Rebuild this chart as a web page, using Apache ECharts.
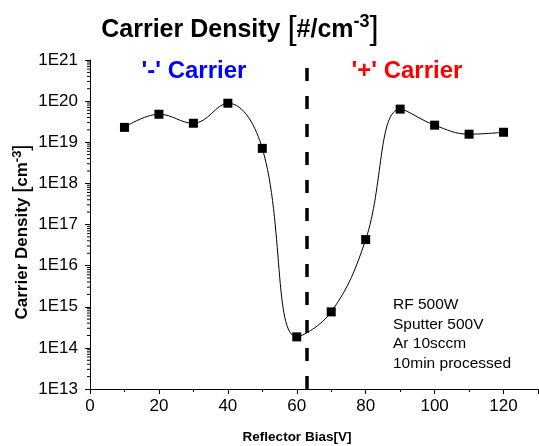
<!DOCTYPE html>
<html>
<head>
<meta charset="utf-8">
<script src="https://cdn.jsdelivr.net/npm/echarts@6/dist/echarts.min.js"></script>
<style>
html,body{margin:0;padding:0;background:#fff;}
#c{width:539px;height:446px;}
</style>
</head>
<body>
<div id="c"></div>
<script>
// Data
var biasV = [10, 20, 30, 40, 50, 60, 70, 80, 90, 100, 110, 120];
var density = [2.3e19, 4.8e19, 2.9e19, 8.9e19, 7.1e18, 1.85e14, 7.5e14, 4.3e16, 6.4e19, 2.6e19, 1.57e19, 1.75e19];
var yTickLabels = ['1E13','1E14','1E15','1E16','1E17','1E18','1E19','1E20','1E21'];
var xTickLabels = ['0','20','40','60','80','100','120'];
var boundaryBias = 63;
var noteLines = ['RF 500W', 'Sputter 500V', 'Ar 10sccm', '10min processed'];

var FONT = '"Liberation Sans", Arial, sans-serif';

// log-spaced minor tick positions for the y axis (axis decoration)
var minorTicks = [];
for (var e = 13; e < 21; e++) {
  for (var m = 2; m <= 9; m++) minorTicks.push([0, m * Math.pow(10, e)]);
}

var chart = echarts.init(document.getElementById('c'));
chart.setOption({
  animation: false,
  backgroundColor: '#fff',
  textStyle: {fontFamily: FONT},
  grid: {left: 90, right: 1, top: 60, bottom: 57, containLabel: false},
  xAxis: {
    type: 'value', min: 0, max: 130, interval: 20,
    axisLine: {show: true, lineStyle: {color: '#000', width: 1}},
    axisTick: {show: true, inside: false, length: 5, lineStyle: {color: '#000'}},
    minorTick: {show: true, splitNumber: 2, length: 3, lineStyle: {color: '#000'}},
    splitLine: {show: false},
    axisLabel: {color: '#000', fontSize: 17, fontFamily: FONT, margin: 9, showMaxLabel: false,
      formatter: function (v) { var i = xTickLabels.indexOf(String(v)); return i >= 0 ? xTickLabels[i] : ''; }}
  },
  yAxis: {
    type: 'log', logBase: 10, min: 1e13, max: 1e21,
    axisLine: {show: true, lineStyle: {color: '#000', width: 1}},
    axisTick: {show: true, inside: false, length: 5, lineStyle: {color: '#000'}},
    splitLine: {show: false},
    axisLabel: {color: '#000', fontSize: 17, fontFamily: FONT, margin: 12,
      formatter: function (v) { var k = Math.round(Math.log10(v)); return yTickLabels[k - 13] || ''; }}
  },
  series: [
    {
      type: 'custom', silent: true, clip: false, z: 1,
      data: minorTicks,
      renderItem: function (params, api) {
        var p = api.coord([0, api.value(1)]);
        return {type: 'line', shape: {x1: p[0] - 3, y1: p[1], x2: p[0], y2: p[1]},
          style: {stroke: '#000', lineWidth: 1}};
      }
    },
    {
      type: 'line',
      data: biasV.map(function (x, i) { return [x, density[i]]; }),
      smooth: 0.4,
      symbol: 'rect', symbolSize: 9,
      itemStyle: {color: '#000'},
      lineStyle: {color: '#000', width: 1},
      markLine: {
        silent: true, symbol: ['none', 'none'],
        label: {show: false},
        lineStyle: {color: '#000', type: [13, 15], width: 3.5},
        data: [{xAxis: boundaryBias}]
      }
    }
  ],
  graphic: [
    {type: 'text', x: 240, y: 30,
      style: {
        align: 'center', verticalAlign: 'middle',
        rich: {
          b: {fontSize: 25, fontWeight: 'bold', fontFamily: FONT, fill: '#000'},
          br: {fontSize: 33, fontFamily: FONT, fill: '#000'},
          sup: {fontSize: 18, fontWeight: 'bold', fontFamily: FONT, fill: '#000', verticalAlign: 'top', padding: [0, 0, 14, 0]}
        },
        text: '{b|Carrier Density }{br|[}{b|#/cm}{sup|-3}{br|]}'
      }
    },
    {type: 'text', x: 194, y: 71, style: {text: "'-' Carrier", fontSize: 24, fontWeight: 'bold', fontFamily: FONT, fill: '#0000ff', align: 'center', verticalAlign: 'middle'}},
    {type: 'text', x: 407, y: 71, style: {text: "'+' Carrier", fontSize: 24, fontWeight: 'bold', fontFamily: FONT, fill: '#ff0000', align: 'center', verticalAlign: 'middle'}},
    {type: 'text', x: 393, y: 295, style: {text: noteLines.join('\n'), fontSize: 15.5, lineHeight: 19.5, fontFamily: FONT, fill: '#000'}},
    {type: 'text', x: 297, y: 437, style: {text: 'Reflector Bias[V]', fontSize: 13.5, fontWeight: 'bold', fontFamily: FONT, fill: '#000', align: 'center', verticalAlign: 'middle'}},
    {type: 'text', x: 22, y: 232, rotation: Math.PI / 2,
      style: {
        align: 'center', verticalAlign: 'middle',
        rich: {
          b: {fontSize: 17, fontWeight: 'bold', fontFamily: FONT, fill: '#000'},
          br: {fontSize: 22, fontFamily: FONT, fill: '#000'},
          sup: {fontSize: 13, fontWeight: 'bold', fontFamily: FONT, fill: '#000', verticalAlign: 'top', padding: [0, 0, 9, 0]}
        },
        text: '{b|Carrier Density }{br|[}{b|cm}{sup|-3}{br|]}'
      }
    }
  ]
});
</script>
</body>
</html>
